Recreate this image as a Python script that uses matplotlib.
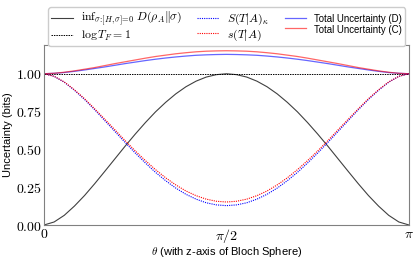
import matplotlib
matplotlib.use('Agg')
import matplotlib.pyplot as plt
import numpy as np

plt.rcParams['mathtext.fontset'] = 'cm'
plt.rcParams['font.family'] = ['Liberation Sans', 'DejaVu Sans']

# theta sampled every 5 degrees from 0 to 180
theta_deg = [0, 5, 10, 15, 20, 25, 30, 35, 40, 45, 50, 55, 60, 65, 70, 75, 80, 85, 90,
             95, 100, 105, 110, 115, 120, 125, 130, 135, 140, 145, 150, 155, 160, 165, 170, 175, 180]

inf_D = [0.000, 0.020, 0.064, 0.125, 0.195, 0.273, 0.355, 0.438, 0.521, 0.601, 0.677, 0.748,
         0.811, 0.867, 0.914, 0.951, 0.978, 0.994, 1.000, 0.994, 0.978, 0.951, 0.914, 0.867,
         0.811, 0.748, 0.677, 0.601, 0.521, 0.438, 0.355, 0.273, 0.195, 0.125, 0.064, 0.020, 0.000]

log_TF = [1.0] * 37

S_kappa = [1.000, 0.983, 0.944, 0.891, 0.830, 0.762, 0.690, 0.618, 0.546, 0.476, 0.410, 0.348,
           0.293, 0.244, 0.203, 0.171, 0.147, 0.133, 0.128, 0.133, 0.147, 0.171, 0.203, 0.244,
           0.293, 0.348, 0.410, 0.476, 0.546, 0.618, 0.690, 0.762, 0.830, 0.891, 0.944, 0.983, 1.000]

s_C = [1.000, 0.983, 0.946, 0.894, 0.835, 0.768, 0.699, 0.629, 0.558, 0.490, 0.426, 0.366,
       0.312, 0.265, 0.225, 0.194, 0.171, 0.157, 0.152, 0.157, 0.171, 0.194, 0.225, 0.265,
       0.312, 0.366, 0.426, 0.490, 0.558, 0.629, 0.699, 0.768, 0.835, 0.894, 0.946, 0.983, 1.000]

total_D = [1.000, 1.003, 1.008, 1.016, 1.025, 1.035, 1.045, 1.056, 1.067, 1.077, 1.087, 1.096,
           1.104, 1.111, 1.117, 1.122, 1.125, 1.127, 1.128, 1.127, 1.125, 1.122, 1.117, 1.111,
           1.104, 1.096, 1.087, 1.077, 1.067, 1.056, 1.045, 1.035, 1.025, 1.016, 1.008, 1.003, 1.000]

total_C = [1.000, 1.003, 1.010, 1.019, 1.030, 1.041, 1.054, 1.067, 1.079, 1.091, 1.103, 1.114,
           1.123, 1.132, 1.139, 1.145, 1.149, 1.151, 1.152, 1.151, 1.149, 1.145, 1.139, 1.132,
           1.123, 1.114, 1.103, 1.091, 1.079, 1.067, 1.054, 1.041, 1.030, 1.019, 1.010, 1.003, 1.000]

yticks = [0.0, 0.25, 0.5, 0.75, 1.0]
ytick_labels = ['$0.00$', '$0.25$', '$0.50$', '$0.75$', '$1.00$']
xtick_labels = ['$0$', r'$\pi/2$', r'$\pi$']

theta = np.array(theta_deg) * np.pi / 180.0

fig = plt.figure(figsize=(4.15, 2.6), dpi=100)
ax = fig.add_axes([0.106, 0.1346, 0.8795, 0.6923])

ax.plot(theta, inf_D, color='black', lw=0.8, alpha=0.75,
        label=r'$\inf_{\sigma:[H,\sigma]=0}\,D(\rho_A\|\sigma)$')
ax.plot(theta, log_TF, color='black', lw=0.7, ls=(0, (1.5, 1)), label=r'$\log T_F = 1$')
ax.plot(theta, S_kappa, color='blue', lw=0.8, ls=(0, (1, 1)), label=r'$S(T|A)_\kappa$')
ax.plot(theta, s_C, color='red', lw=0.8, ls=(0, (1, 1)), label=r'$s(T|A)$')
ax.plot(theta, total_D, color='blue', lw=0.9, alpha=0.6, label='Total Uncertainty (D)')
ax.plot(theta, total_C, color='red', lw=0.9, alpha=0.6, label='Total Uncertainty (C)')

ax.set_xlim(0, np.pi)
ax.set_ylim(0, 1.19)
ax.set_yticks(yticks)
ax.set_yticklabels(ytick_labels, fontsize=10)
ax.set_xticks([0, np.pi / 2, np.pi])
ax.set_xticklabels(xtick_labels, fontsize=10)
ax.tick_params(length=0, pad=1.5)
for sp in ax.spines.values():
    sp.set_color('#808080')
    sp.set_linewidth(0.8)

ax.set_ylabel('Uncertainty (bits)', fontsize=8, labelpad=2)
ax.set_xlabel(r'$\theta$ (with z-axis of Bloch Sphere)', fontsize=8)
ax.xaxis.set_label_coords(0.5, -0.11)

leg = fig.legend(ncol=3, loc='upper center', bbox_to_anchor=(0.546, 0.995), fontsize=8.5,
                 frameon=True, edgecolor='#cccccc', framealpha=1.0, columnspacing=1.3,
                 handlelength=1.8, handletextpad=0.7, borderpad=0.25, labelspacing=0.05)
for t in leg.get_texts():
    if t.get_text().startswith('Total'):
        t.set_fontsize(6.9)

fig.savefig('out.png', dpi=100)
